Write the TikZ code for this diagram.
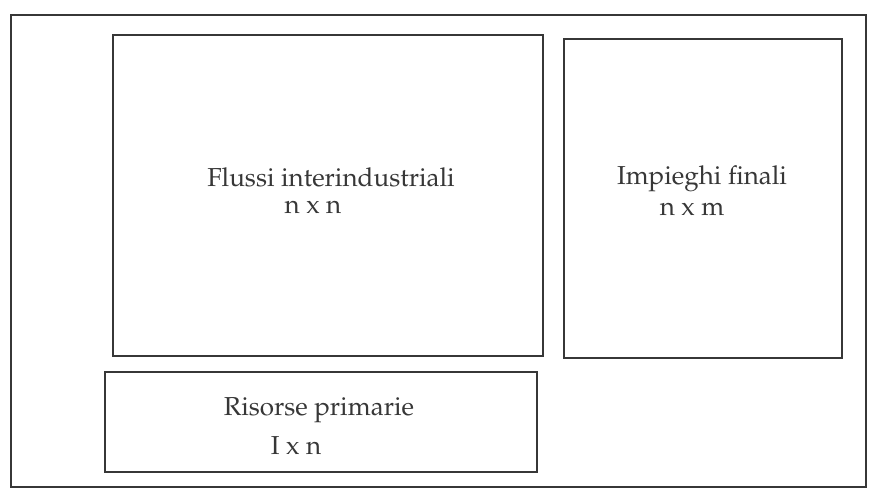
\documentclass[tikz,border=0pt]{standalone}
\usepackage[T1]{fontenc}
\renewcommand{\rmdefault}{ppl}
\usepackage{tikz}
\usetikzlibrary{positioning}
\definecolor{ink}{RGB}{55, 55, 55}
\tikzstyle{frame} = [rectangle, draw=ink, line width=1.6pt, inner sep=0pt]
\tikzstyle{block} = [rectangle, draw=ink, line width=1.6pt, inner sep=0pt, fill=white]
\tikzstyle{label} = [font=\fontsize{26}{30}\selectfont, text=ink, inner sep=0pt, anchor=base]

\begin{document}
\begin{tikzpicture}[x=1pt, y=-1pt]
\useasboundingbox (0,0) rectangle (870,489);

% outer frame =============================
\node[frame, minimum width=855pt, minimum height=472pt] (table) at (438.5,251) {};

% blocks
\node[block, minimum width=430pt, minimum height=321pt] (flussi) at (328,195.5) {};
\node[block, minimum width=278pt, minimum height=319pt] (impieghi) at (703,198.5) {};
\node[block, minimum width=432pt, minimum height=100pt] (risorse) at (321,422) {};

% labels
\node[label] (flussi-name) at (331,187) {Flussi interindustriali};
\node[label] (flussi-dim) at (313,214) {n x n};
\node[label] (impieghi-name) at (702,185) {Impieghi finali};
\node[label] (impieghi-dim) at (692,215) {n x m};
\node[label] (risorse-name) at (319,415) {Risorse primarie};
\node[label] (risorse-dim) at (296,454) {I x n};

\end{tikzpicture}
\end{document}
